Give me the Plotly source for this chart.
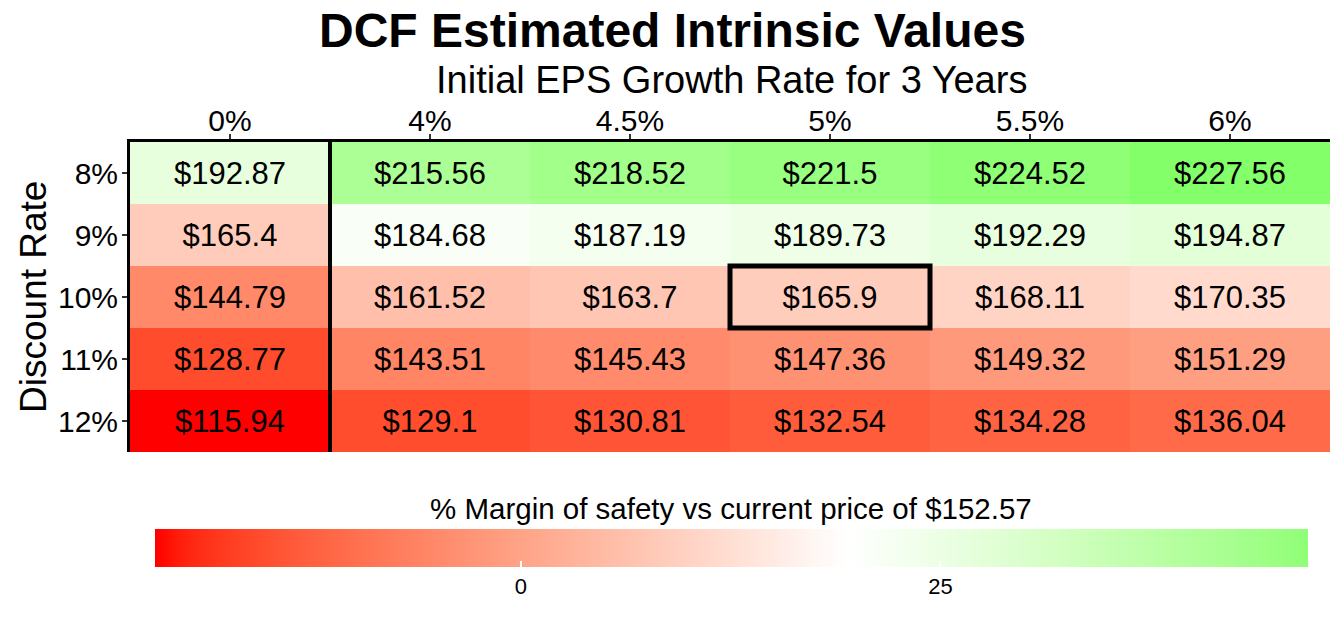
import numpy as np
import plotly.graph_objects as go

growth = ["0%", "4%", "4.5%", "5%", "5.5%", "6%"]
discount = ["8%", "9%", "10%", "11%", "12%"]
val_8 = [192.87, 215.56, 218.52, 221.5, 224.52, 227.56]
val_9 = [165.4, 184.68, 187.19, 189.73, 192.29, 194.87]
val_10 = [144.79, 161.52, 163.7, 165.9, 168.11, 170.35]
val_11 = [128.77, 143.51, 145.43, 147.36, 149.32, 151.29]
val_12 = [115.94, 129.1, 130.81, 132.54, 134.28, 136.04]
current_price = 152.57
midpoint = 19.5
half_span = 41.0
legend_ticks = [0, 25]
legend_range = [-21.8, 46.9]

values = np.array([val_8, val_9, val_10, val_11, val_12])
margin = (values - current_price) / current_price * 100
text = [[f"${v:g}" for v in row] for row in values]


# ---- Lab colour interpolation (like ggplot's scale_fill_gradient2) ----
def srgb_to_lab(rgb):
    c = np.array(rgb, dtype=float) / 255.0
    lin = np.where(c <= 0.04045, c / 12.92, ((c + 0.055) / 1.055) ** 2.4)
    M = np.array([[0.4124, 0.3576, 0.1805], [0.2126, 0.7152, 0.0722], [0.0193, 0.1192, 0.9505]])
    xyz = M @ lin
    wp = np.array([0.95047, 1.0, 1.08883])
    t = xyz / wp
    f = np.where(t > 216 / 24389, np.cbrt(t), (24389 / 27 * t + 16) / 116)
    return np.array([116 * f[1] - 16, 500 * (f[0] - f[1]), 200 * (f[1] - f[2])])


def lab_to_srgb(lab):
    L, a, b = lab
    fy = (L + 16) / 116
    fx = fy + a / 500
    fz = fy - b / 200
    def finv(f):
        return f ** 3 if f ** 3 > 216 / 24389 else (116 * f - 16) / (24389 / 27)
    wp = np.array([0.95047, 1.0, 1.08883])
    xyz = np.array([finv(fx), finv(fy), finv(fz)]) * wp
    Minv = np.array([[3.2406, -1.5372, -0.4986], [-0.9689, 1.8758, 0.0415], [0.0557, -0.2040, 1.0570]])
    lin = np.clip(Minv @ xyz, 0, 1)
    c = np.where(lin <= 0.0031308, 12.92 * lin, 1.055 * lin ** (1 / 2.4) - 0.055)
    c = np.clip(np.round(c * 255), 0, 255).astype(int)
    return f"rgb({c[0]},{c[1]},{c[2]})"


LOW = srgb_to_lab([255, 0, 0])
MID = srgb_to_lab([255, 255, 255])
HIGH = srgb_to_lab([0, 255, 0])
data_lo, data_hi = margin.min(), margin.max()


def colour_of(v):
    r = (v - midpoint) / half_span / 2 + 0.5
    r = min(max(r, 0), 1)
    if r <= 0.5:
        t = r / 0.5
        lab = LOW + (MID - LOW) * t
    else:
        t = (r - 0.5) / 0.5
        lab = MID + (HIGH - MID) * t
    return lab_to_srgb(lab)


def make_scale(lo, hi, n=120):
    vs = np.linspace(lo, hi, n)
    return [[i / (n - 1), colour_of(v)] for i, v in enumerate(vs)]


# page body adds an 8px margin, so the figure is drawn 8px smaller and shifted
W, H = 1336, 616
PL, PR, PT, PB = 122, 1322, 134, 444   # panel edges in pixels
PW, PH = PR - PL, PB - PT


def px(x):
    return (x - PL) / PW


def py(y):
    return (PB - y) / PH


fig = go.Figure()
fig.add_trace(go.Heatmap(
    z=margin, x=growth, y=discount, text=text, texttemplate="%{text}",
    textfont=dict(size=31, color="black", family="Liberation Sans, Arial"),
    coloraxis="coloraxis", hoverinfo="skip",
))
fig.add_trace(go.Scatter(
    x=[growth[0]], y=[discount[0]], mode="markers",
    marker=dict(color=[0], coloraxis="coloraxis2", opacity=0, size=1),
    hoverinfo="skip", showlegend=False,
))

FONT = "Liberation Sans, Arial"
fig.update_layout(
    width=W, height=H,
    margin=dict(l=PL, r=W - PR, t=PT, b=H - PB),
    paper_bgcolor="white", plot_bgcolor="white",
    font=dict(family=FONT, color="black"),
    showlegend=False,
    coloraxis=dict(cmin=data_lo, cmax=data_hi, colorscale=make_scale(data_lo, data_hi), showscale=False),
    coloraxis2=dict(
        cmin=legend_range[0], cmax=legend_range[1], colorscale=make_scale(*legend_range),
        colorbar=dict(
            orientation="h", lenmode="pixels", len=1153, thickness=38,
            x=px(723.5), xanchor="center", y=py(521), yanchor="top",
            xpad=0, ypad=0, outlinewidth=0,
            tickvals=legend_ticks, ticktext=[str(t) for t in legend_ticks],
            ticks="inside", ticklen=6, tickcolor="white", tickwidth=1.5,
            tickfont=dict(size=22, color="black"),
        ),
    ),
    xaxis=dict(
        side="top", type="category", range=[-0.5, 5.5], showgrid=False, zeroline=False,
        showline=True, linecolor="black", linewidth=3, automargin=False,
        ticks="outside", ticklen=5, tickwidth=1.5, tickcolor="#333333",
        tickfont=dict(size=30, color="black"), ticklabelstandoff=-9,
    ),
    yaxis=dict(
        type="category", range=[4.5, -0.5], showgrid=False, zeroline=False,
        showline=True, linecolor="black", linewidth=3, automargin=False,
        ticks="outside", ticklen=5, tickwidth=1.5, tickcolor="#333333",
        tickfont=dict(size=30, color="black"), ticklabelstandoff=-2,
    ),
    annotations=[
        dict(text="<b>DCF Estimated Intrinsic Values</b>", x=px(664), y=py(23),
             xref="paper", yref="paper", showarrow=False, xanchor="center", yanchor="middle",
             font=dict(size=48, color="black")),
        dict(text="Initial EPS Growth Rate for 3 Years", x=px(723), y=py(72),
             xref="paper", yref="paper", showarrow=False, xanchor="center", yanchor="middle",
             font=dict(size=38, color="black")),
        dict(text="Discount Rate", x=px(25), y=0.5, xref="paper", yref="paper",
             showarrow=False, textangle=-90, xanchor="center", yanchor="middle",
             font=dict(size=37, color="black")),
        dict(text="% Margin of safety vs current price of $152.57", x=px(723),
             y=py(500), xref="paper", yref="paper", showarrow=False,
             xanchor="center", yanchor="middle", font=dict(size=29.5, color="black")),
    ],
    shapes=[
        dict(type="line", xref="x", yref="y", x0=0.5, x1=0.5, y0=-0.5, y1=4.5,
             line=dict(color="black", width=4)),
        dict(type="rect", xref="x", yref="y", x0=2.5, x1=3.5, y0=1.5, y1=2.5,
             line=dict(color="black", width=5)),
    ],
)

fig.write_html("out.html")
